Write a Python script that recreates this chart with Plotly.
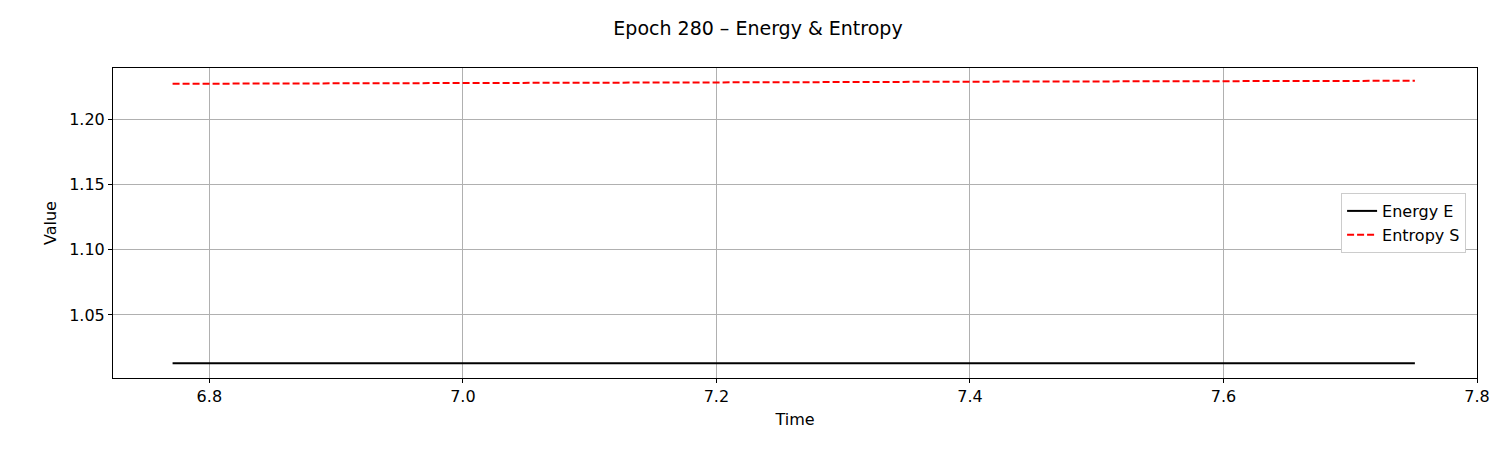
import plotly.graph_objects as go

time = [6.771, 6.9, 7.0, 7.1, 7.2, 7.3, 7.4, 7.5, 7.6, 7.7, 7.751]
energy = [1.0129, 1.0129, 1.0129, 1.0129, 1.0129, 1.0129, 1.0129, 1.0129, 1.0129, 1.0129, 1.0129]
entropy = [1.2274, 1.2276, 1.2279, 1.2281, 1.2284, 1.2287, 1.2290, 1.2292, 1.2294, 1.2296, 1.2297]

fig = go.Figure()
fig.add_trace(go.Scatter(x=time, y=energy, mode="lines", name="Energy E",
                         line=dict(color="black", width=2)))
fig.add_trace(go.Scatter(x=time, y=entropy, mode="lines", name="Entropy S",
                         line=dict(color="red", width=2, dash="7px,3px")))

ax = dict(showline=True, linecolor="black", linewidth=1, mirror=True,
          showgrid=True, gridcolor="#b0b0b0", gridwidth=1, zeroline=False,
          ticks="outside", ticklen=4, tickcolor="black",
          tickfont=dict(size=16, color="black"))
fig.update_layout(
    width=1500, height=450, plot_bgcolor="white", paper_bgcolor="white",
    font=dict(family="DejaVu Sans", color="black"),
    margin=dict(l=105, r=31, t=60, b=80),
    title=dict(text="Epoch 280 – Energy & Entropy", x=0.5, xanchor="center",
               y=0.955, yanchor="middle", font=dict(size=19)),
    xaxis=dict(**ax, range=[6.724, 7.8], tickvals=[6.8, 7.0, 7.2, 7.4, 7.6, 7.8],
               ticktext=["6.8", "7.0", "7.2", "7.4", "7.6", "7.8"],
               title=dict(text="Time", font=dict(size=16), standoff=8)),
    yaxis=dict(**ax, range=[1.0016, 1.2395], tickvals=[1.05, 1.10, 1.15, 1.20],
               ticktext=["1.05", "1.10", "1.15", "1.20"],
               title=dict(text="Value", font=dict(size=16), standoff=8)),
    legend=dict(x=0.992, xanchor="right", y=0.5, yanchor="middle",
                bordercolor="#cccccc", borderwidth=1, bgcolor="white",
                font=dict(size=16), tracegroupgap=4),
)
fig.update_layout(title_y=0.955)
fig.layout.title.y = 1 - 20/450
fig.write_html("out.html")
